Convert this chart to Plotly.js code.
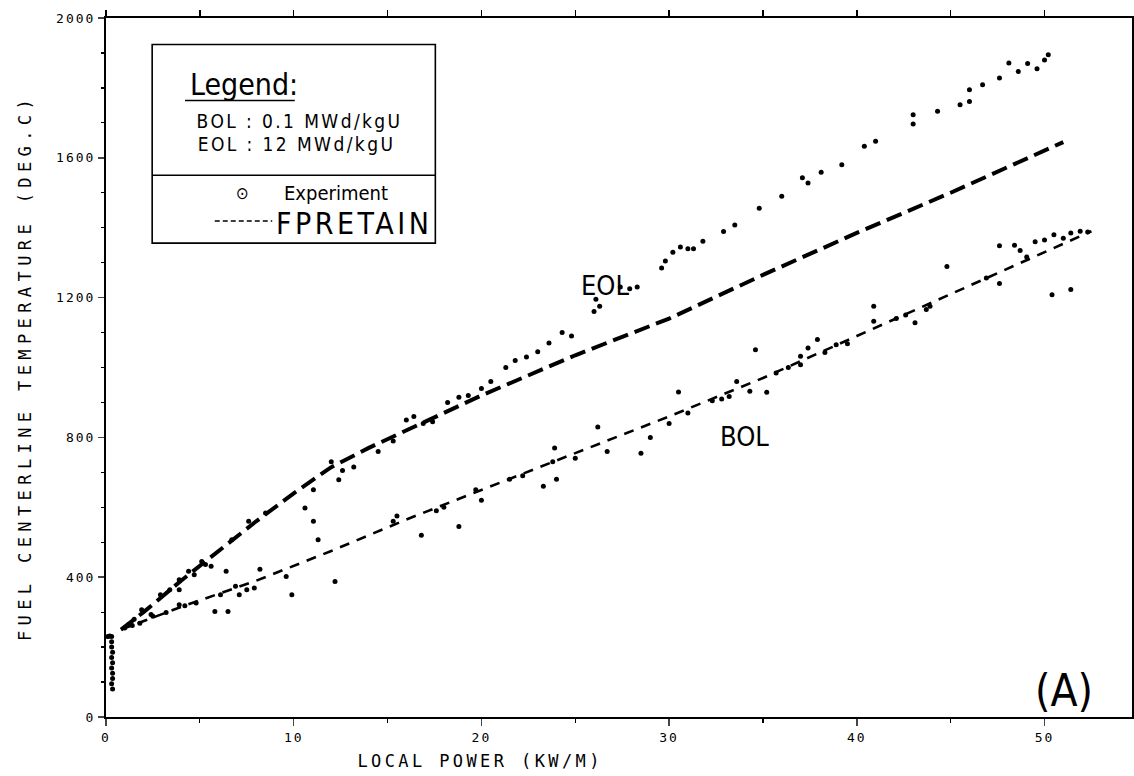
<!DOCTYPE html>
<html>
<head>
<meta charset="utf-8">
<script src="https://cdn.plot.ly/plotly-3.0.1.min.js"></script>
<style>
html,body{margin:0;padding:0;background:#fff;}
.xtick text,.ytick text{letter-spacing:2px;}
</style>
</head>
<body>
<div id="chart" style="width:1134px;height:776px;"></div>
<script>
// ---- Data ----
const xTickVals = [0, 10, 20, 30, 40, 50];
const yTickVals = [0, 400, 800, 1200, 1600, 2000];

// FPRETAIN model curves
const eolModelX = [0.8, 2, 4, 6, 8, 10, 12, 14, 16, 20, 25, 30, 35, 40, 45, 51.0];
const eolModelY = [250, 300, 390, 475, 560, 640, 715, 770, 820, 920, 1035, 1140, 1265, 1385, 1500, 1645];
const bolModelX = [0.8, 4, 8, 12, 16, 20, 25, 30, 35, 40, 45, 52.5];
const bolModelY = [250, 315, 390, 475, 565, 650, 755, 860, 970, 1090, 1210, 1390];

// Experiment points near zero power
const expZeroX = [0.1, 0.2, 0.3, 0.3, 0.3, 0.35, 0.3, 0.35, 0.3, 0.35, 0.35, 0.3, 0.35];
const expZeroY = [230, 232, 230, 215, 200, 185, 170, 155, 140, 125, 110, 95, 80];

// Experiment points, EOL
const expEolX = [1.2, 1.5, 1.9, 2.4, 2.9, 3.4, 3.9, 3.9, 4.4, 4.7, 5.1, 5.3, 5.6, 6.7, 7.6, 8.5,
  10.6, 11.05, 11.05, 11.3, 12.0, 12.4, 12.6, 13.2, 14.5, 15.3, 16.0, 16.4, 16.9, 17.4, 18.2, 18.8,
  19.3, 20.0, 20.5, 21.3, 21.8, 22.4, 23.0, 23.6, 24.3, 24.8, 26.0, 26.1, 26.3, 27.4, 27.9, 28.3,
  29.6, 29.8, 30.2, 30.6, 31.0, 31.3, 31.8, 32.9, 33.5, 34.8, 36.0, 37.1, 37.4, 38.1, 39.2, 40.4,
  41.0, 43.0, 43.0, 44.3, 45.5, 46.0, 46.0, 46.7, 47.6, 48.1, 48.6, 49.1, 49.6, 50.0, 50.2];
const expEolY = [265, 280, 307, 293, 350, 364, 393, 364, 417, 407, 445, 436, 431, 507, 560, 584,
  598, 650, 560, 507, 730, 679, 705, 715, 760, 790, 850, 860, 840, 845, 900, 915,
  920, 940, 960, 1000, 1020, 1030, 1045, 1070, 1100, 1090, 1160, 1195, 1175, 1230, 1225, 1230,
  1285, 1305, 1330, 1345, 1340, 1340, 1361, 1389, 1408, 1456, 1490, 1543, 1528, 1559, 1580, 1633,
  1647, 1697, 1723, 1733, 1752, 1761, 1795, 1809, 1828, 1871, 1847, 1870, 1855, 1880, 1895];

// Experiment points, BOL
const expBolX = [1.0, 1.4, 1.8, 2.5, 3.2, 3.9, 4.2, 4.8, 5.8, 6.1, 6.4, 6.5, 6.9, 7.1, 7.5, 7.9, 8.2,
  9.6, 9.9, 12.2, 15.3, 15.5, 16.8, 17.6, 18.0, 18.8, 19.7, 20.0, 21.5, 22.2, 23.3, 23.8, 23.9,
  24.0, 25.0, 26.2, 26.7, 28.5, 29.0, 30.0, 30.5, 31.0, 32.3, 32.8, 33.2, 33.6, 34.3, 34.6, 35.2,
  35.7, 36.35, 37.0, 37.0, 37.4, 37.9, 38.3, 38.9, 39.5, 40.9, 40.9, 42.1, 42.6, 43.1, 43.7, 43.9,
  44.8, 46.9, 47.6, 47.6, 48.4, 48.7, 49.05, 49.5, 50.0, 50.4, 50.5, 51.0, 51.4, 51.4, 51.9, 52.3];
const expBolY = [255, 262, 268, 288, 299, 321, 318, 326, 302, 350, 417, 302, 374, 350, 364, 369, 423,
  402, 350, 388, 560, 575, 520, 590, 600, 545, 650, 620, 680, 690, 660, 730, 770,
  680, 740, 830, 760, 755, 800, 840, 930, 870, 905, 910, 917, 960, 932, 1051, 929,
  984, 1000, 1008, 1032, 1056, 1080, 1043, 1065, 1068, 1132, 1175, 1140, 1150, 1128, 1166, 1175,
  1289, 1256, 1240, 1348, 1350, 1335, 1316, 1360, 1365, 1208, 1380, 1370, 1223, 1385, 1390, 1388];

// Text labels
const curveLabels = ["EOL", "BOL"];
const curveLabelX = [26.6, 34.0];
const curveLabelY = [1235, 802];
const legendTitle = "Legend:";
const legendLines = ["BOL : 0.1 MWd/kgU", "EOL : 12 MWd/kgU"];
const legendExp = "Experiment";
const legendModel = "FPRETAIN";
const panelLabel = "(A)";
const xTitle = "LOCAL POWER (KW/M)";
const yTitle = "FUEL CENTERLINE TEMPERATURE (DEG.C)";

// ---- Figure ----
const expMarker = {color: "#000", size: 5, symbol: "circle"};
const traces = [
  {x: eolModelX, y: eolModelY, mode: "lines", name: "FPRETAIN EOL",
   line: {color: "#000", width: 4, dash: "16px,7px"}, showlegend: false},
  {x: bolModelX, y: bolModelY, mode: "lines", name: "FPRETAIN BOL",
   line: {color: "#000", width: 2.6, dash: "10px,8px"}, showlegend: false},
  {x: expZeroX, y: expZeroY, mode: "markers", marker: expMarker, showlegend: false},
  {x: expEolX, y: expEolY, mode: "markers", marker: expMarker, showlegend: false},
  {x: expBolX, y: expBolY, mode: "markers", marker: expMarker, showlegend: false},
  // carrier for the top axis tick marks
  {x: [0, 50], y: [0, 0], xaxis: "x2", mode: "markers", marker: {opacity: 0}, showlegend: false, hoverinfo: "skip"}
];

// legend geometry (paper coords)
const bx0 = 0.045, bx1 = 0.321, by0 = 0.678, by1 = 0.962, bsep = 0.775;
const monoFont = "DejaVu Sans Mono, monospace";
const narrowFont = "Liberation Sans Narrow, DejaVu Sans Condensed, Liberation Sans, sans-serif";

function ann(x, y, text, size, xanchor) {
  return {xref: "paper", yref: "paper", x: x, y: y, text: text, showarrow: false,
          xanchor: xanchor || "left", yanchor: "middle",
          font: {family: narrowFont, size: size, color: "#000"}};
}

const layout = {
  width: 1134, height: 776,
  margin: {l: 106, r: 2, t: 18, b: 59},
  paper_bgcolor: "#fff", plot_bgcolor: "#fff",
  showlegend: false,
  xaxis: {
    range: [0, 54.66], tickvals: xTickVals, ticks: "outside", ticklen: 7, tickwidth: 1.5,
    showline: true, linewidth: 2, linecolor: "#000", mirror: true,
    showgrid: false, zeroline: false,
    tickfont: {family: monoFont, size: 13, color: "#000"},
    minor: {dtick: 5, ticks: "outside", ticklen: 4, tickwidth: 1.2, tickcolor: "#000", showgrid: false}
  },
  xaxis2: {
    range: [0, 54.66], overlaying: "x", side: "top", dtick: 5, tick0: 0,
    ticks: "outside", ticklen: 7, tickwidth: 1.5, tickcolor: "#000",
    showticklabels: false, showgrid: false, zeroline: false, showline: false
  },
  yaxis: {
    range: [0, 2000], tickvals: yTickVals, ticks: "outside", ticklen: 6, tickwidth: 1.5,
    showline: true, linewidth: 2, linecolor: "#000", mirror: true,
    showgrid: false, zeroline: false,
    tickfont: {family: monoFont, size: 13, color: "#000"},
    minor: {dtick: 100, ticks: "outside", ticklen: 3, tickwidth: 1.2, tickcolor: "#000", showgrid: false},
    title: {text: yTitle, font: {family: monoFont, size: 17, color: "#000"}, standoff: 20}
  },
  shapes: [
    {type: "rect", xref: "paper", yref: "paper", x0: bx0, x1: bx1, y0: by0, y1: by1,
     line: {color: "#000", width: 1.6}, fillcolor: "rgba(0,0,0,0)"},
    {type: "line", xref: "paper", yref: "paper", x0: bx0, x1: bx1, y0: bsep, y1: bsep,
     line: {color: "#000", width: 1.6}},
    {type: "line", xref: "paper", yref: "paper", x0: 0.077, x1: 0.184, y0: 0.882, y1: 0.882,
     line: {color: "#000", width: 1.5}},
    {type: "line", xref: "paper", yref: "paper", x0: 0.106, x1: 0.162, y0: 0.7096, y1: 0.7096,
     line: {color: "#000", width: 1.5, dash: "5px,3px"}}
  ],
  annotations: [
    {xref: "x", yref: "paper", x: 19.9, y: 0, yshift: -32, text: xTitle, showarrow: false,
     xanchor: "center", yanchor: "top", font: {family: monoFont, size: 17, color: "#000"}},
    {xref: "x", yref: "y", x: curveLabelX[0], y: curveLabelY[0], text: curveLabels[0], showarrow: false,
     xanchor: "center", yanchor: "middle", font: {family: narrowFont, size: 27, color: "#000"}},
    {xref: "x", yref: "y", x: curveLabelX[1], y: curveLabelY[1], text: curveLabels[1], showarrow: false,
     xanchor: "center", yanchor: "middle", font: {family: narrowFont, size: 27, color: "#000"}},
    {xref: "paper", yref: "paper", x: 0.964, y: 0, yshift: -1, text: panelLabel, showarrow: false,
     xanchor: "right", yanchor: "bottom", font: {family: narrowFont, size: 44, color: "#000"}},
    ann(0.080, 0.905, legendTitle, 30),
    ann(0.1065, 0.8526, legendLines[0], 19),
    ann(0.1065, 0.8197, legendLines[1], 19),
    ann(0.1326, 0.7496, "\u2299", 17, "center"),
    ann(0.1715, 0.7496, legendExp, 20),
    ann(0.1776, 0.7067, legendModel, 30)
  ]
};

Plotly.newPlot("chart", traces, layout, {staticPlot: true, displayModeBar: false}).then(function () {
  document.querySelectorAll("text").forEach(function (t) {
    const s = t.textContent;
    if (s === xTitle) t.style.letterSpacing = "3.4px";
    if (s === yTitle) t.style.letterSpacing = "5.4px";
    if (s === legendLines[0] || s === legendLines[1]) t.style.letterSpacing = "2.4px";
    if (s === legendModel) t.style.letterSpacing = "3.5px";
  });
});
</script>
</body>
</html>
